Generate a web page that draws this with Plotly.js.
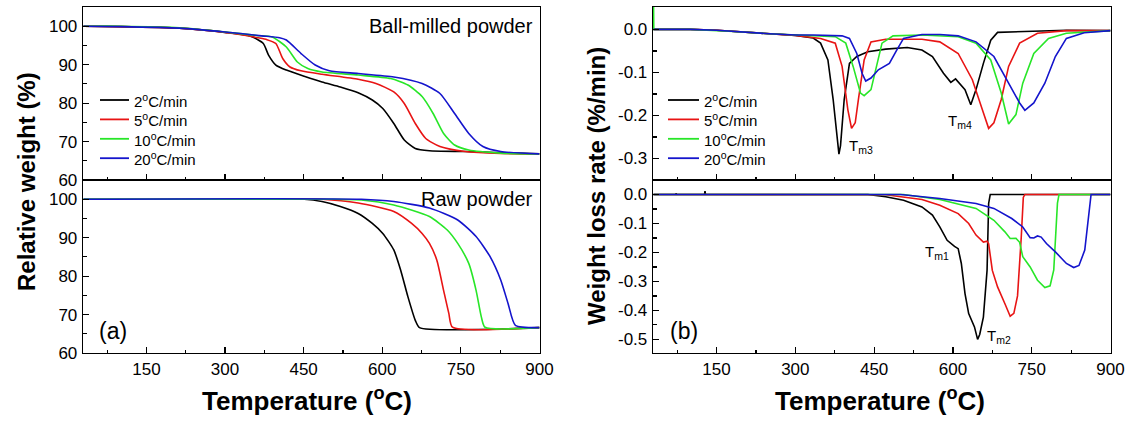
<!DOCTYPE html>
<html><head><meta charset="utf-8">
<script src="https://cdn.plot.ly/plotly-3.0.1.min.js"></script>
<style>html,body{margin:0;padding:0;background:#fff}#chart{width:1128px;height:421px}</style>
</head><body><div id="chart"></div>
<script>
// ---- Data ----
const seriesNames = ["2<sup>o</sup>C/min", "5<sup>o</sup>C/min", "10<sup>o</sup>C/min", "20<sup>o</sup>C/min"];
const seriesColors = ["#000000", "#e81414", "#28e628", "#1414cc"];

// (a) TG, ball-milled powder
const bmT2 = [30,100,213,300,349,373,383,397,417,451,485,520,554,581,601,622,642,663,690,758,826,900];
const bmW2 = [100,99.9,99.5,98.4,97.4,95.5,92.5,89.9,88.6,87,85.5,84.2,82.7,80.8,78.6,74.7,70.4,68.2,67.6,67.4,67.1,66.8];
const bmT5 = [30,100,213,300,340,363,380,397,410,424,445,485,554,588,622,642,663,683,710,758,826,900];
const bmW5 = [100,99.9,99.5,98.4,97.6,97.0,96.5,95.5,91.6,89.4,88.4,87.5,86.2,85.1,82.9,79.9,74.7,70.8,68.7,67.4,66.9,66.8];
const bmT10 = [30,100,213,300,360,390,417,438,458,485,554,616,649,676,697,717,738,765,826,900];
const bmW10 = [100,100,99.6,98.5,97.6,97.2,94.6,90.7,89,88.1,87.3,86.4,84.7,81.7,77.3,72.1,69.1,67.8,67.0,66.8];
const bmT20 = [30,100,213,300,370,404,417,445,472,499,554,622,676,710,738,765,792,826,900];
const bmW20 = [100,99.9,99.5,98.5,97.5,97,96.4,92.9,89.9,88.4,87.7,86.8,85.1,82.5,77.3,72.1,68.7,67.4,66.8];

// (a) TG, raw powder
const rwT2 = [30,300,451,485,520,554,581,601,622,635,649,663,671,900];
const rwW2 = [100,100,100,99.4,98.1,96.3,93.7,91.1,86.8,81.6,74.6,68.5,66.6,66.6];
const rwT5 = [298,485,554,622,656,676,690,704,717,727,734,900];
const rwW5 = [100,100,99.0,96.8,93.7,91.1,88.5,84.2,76.3,70.3,66.7,66.6];
const rwT10 = [30,500,560,622,690,724,744,765,779,789,796,900];
const rwW10 = [100,100,99.8,98.5,95.5,92,88.5,83.3,76.3,69.4,66.7,66.6];
const rwT20 = [30,560,622,690,744,779,806,826,840,854,900];
const rwW20 = [100,100,99.4,97.7,94.6,90.3,85,79,72.9,67.2,66.6];

// (b) DTG, ball-milled powder
const dbT2 = [30,100,150,183,250,300,334,348,362,372,383,386,393,403,417,438,472,513,541,561,582,596,605,623,634,644,658,672,685,747,816,900];
const dbR2 = [0,0,-0.002,-0.005,-0.01,-0.014,-0.02,-0.032,-0.071,-0.163,-0.29,-0.27,-0.163,-0.079,-0.063,-0.052,-0.046,-0.042,-0.048,-0.063,-0.102,-0.123,-0.115,-0.14,-0.175,-0.14,-0.079,-0.025,-0.007,-0.005,-0.002,-0.003];
const dbT5 = [30,100,150,183,250,300,348,376,389,400,407,414,420,431,444,472,541,575,610,637,658,668,678,692,706,727,761,816,900];
const dbR5 = [0,0,-0.002,-0.005,-0.01,-0.014,-0.021,-0.032,-0.086,-0.187,-0.23,-0.217,-0.163,-0.071,-0.029,-0.023,-0.023,-0.029,-0.056,-0.117,-0.194,-0.23,-0.217,-0.163,-0.086,-0.032,-0.009,-0.003,-0.003];
const dbT10 = [30,30.5,100,150,183,250,300,376,396,410,424,431,444,455,465,486,541,610,644,672,692,706,720,733,754,782,816,900];
const dbR10 = [0.06,0,0,-0.002,-0.005,-0.01,-0.013,-0.017,-0.032,-0.086,-0.148,-0.154,-0.14,-0.086,-0.032,-0.015,-0.013,-0.017,-0.032,-0.071,-0.148,-0.22,-0.198,-0.125,-0.056,-0.021,-0.009,-0.003];
const dbT20 = [30,100,150,183,250,300,334,389,403,417,427,434,444,458,479,493,506,541,575,610,644,678,706,727,737,754,775,795,816,850,900];
const dbR20 = [0,0,-0.002,-0.005,-0.01,-0.013,-0.013,-0.015,-0.021,-0.056,-0.102,-0.12,-0.113,-0.094,-0.079,-0.048,-0.021,-0.012,-0.012,-0.015,-0.029,-0.063,-0.125,-0.171,-0.188,-0.171,-0.125,-0.063,-0.021,-0.008,-0.003];

// (b) DTG, raw powder
const drT2 = [30,72,73,74,127,128,129,200,300,438,472,506,541,561,575,589,603,610,616,623,630,641,647,651,658,665,668,671,700,800,900];
const drR2 = [0,0,0.004,0,0,0.012,0,0,0,0,-0.008,-0.02,-0.043,-0.071,-0.112,-0.158,-0.179,-0.187,-0.238,-0.342,-0.411,-0.457,-0.5,-0.483,-0.423,-0.262,-0.031,0,0,0,0];
const drT5 = [30,300,472,541,575,610,630,644,658,665,668,675,685,699,709,716,723,730,734,737,900];
const drR5 = [0,0,-0.001,-0.017,-0.037,-0.066,-0.1,-0.14,-0.164,-0.161,-0.17,-0.262,-0.319,-0.377,-0.42,-0.41,-0.35,-0.15,-0.01,0,0];
const drT10 = [30,506,575,644,678,699,709,720,727,733,747,761,775,785,792,799,802,900];
const drR10 = [0,0,-0.017,-0.048,-0.089,-0.129,-0.152,-0.151,-0.165,-0.215,-0.25,-0.296,-0.321,-0.315,-0.26,-0.03,0,0];
const drT20 = [30,500,575,644,678,712,733,747,754,761,768,778,795,816,830,840,851,857,863,900];
const drR20 = [0,0,-0.014,-0.031,-0.048,-0.083,-0.112,-0.149,-0.15,-0.143,-0.147,-0.169,-0.198,-0.238,-0.252,-0.245,-0.192,-0.089,0,0];

const xTickVals = [150,300,450,600,750,900];
const xTickText = ["150","300","450","600","750","900"];
const yTGTickVals = [60,70,80,90,100];
const yTGTickText = ["60","70","80","90","100"];
const yDTGTopVals = [-0.3,-0.2,-0.1,0];
const yDTGTopText = ["-0.3","-0.2","-0.1","0.0"];
const yDTGBotVals = [-0.5,-0.4,-0.3,-0.2,-0.1,0];
const yDTGBotText = ["-0.5","-0.4","-0.3","-0.2","-0.1","0.0"];

// ---- Build ----
const W = 1128, H = 421;
const px = v => v / W, py = v => 1 - v / H;
const FONT = "Liberation Sans, Arial, sans-serif";

const groups = [
  {xs:[bmT2,bmT5,bmT10,bmT20], ys:[bmW2,bmW5,bmW10,bmW20], xa:"x", ya:"y", shape:"spline"},
  {xs:[rwT2,rwT5,rwT10,rwT20], ys:[rwW2,rwW5,rwW10,rwW20], xa:"x2", ya:"y2", shape:"spline"},
  {xs:[dbT2,dbT5,dbT10,dbT20], ys:[dbR2,dbR5,dbR10,dbR20], xa:"x3", ya:"y3", shape:"linear"},
  {xs:[drT2,drT5,drT10,drT20], ys:[drR2,drR5,drR10,drR20], xa:"x4", ya:"y4", shape:"linear"}
];
const traces = [];
groups.forEach(g => {
  for (let i = 0; i < 4; i++) {
    traces.push({x:g.xs[i], y:g.ys[i], xaxis:g.xa, yaxis:g.ya, mode:"lines", name:seriesNames[i],
      line:{color:seriesColors[i], width:1.6, shape:g.shape, smoothing:0.6}, hoverinfo:"skip", showlegend:false});
  }
});

const xDomL = [px(83), px(539.5)], xDomR = [px(653), px(1110.5)];
const yDomT = [py(180), py(7)], yDomB = [py(353), py(180)];
const tickFont = {family:FONT, size:17, color:"#000"};

function xa(dom, anchor, labels) {
  return {domain:dom, anchor:anchor, range:[29,900], showline:true, linecolor:"#000", linewidth:1.3, mirror:true,
    ticks:"inside", ticklen:6, tickwidth:1.2, tickcolor:"#000", tickmode:"array", tickvals:xTickVals, ticktext:xTickText,
    showticklabels:labels, tickfont:tickFont, showgrid:false, zeroline:false, ticklabelstandoff:0,
    minor:{tickmode:"linear", tick0:0, dtick:75, ticks:"inside", ticklen:3.5, tickwidth:1.2, tickcolor:"#000", showgrid:false}};
}
function ya(dom, anchor, range, vals, text, mdt) {
  return {domain:dom, anchor:anchor, range:range, showline:true, linecolor:"#000", linewidth:1.3, mirror:true,
    ticks:"inside", ticklen:6, tickwidth:1.2, tickcolor:"#000", tickmode:"array", tickvals:vals, ticktext:text,
    tickfont:tickFont, showgrid:false, zeroline:false, ticklabelstandoff:1,
    minor:{tickmode:"linear", tick0:0, dtick:mdt, ticks:"inside", ticklen:3.5, tickwidth:1.2, tickcolor:"#000", showgrid:false}};
}

const ann = (x, y, text, size, opts) => Object.assign({x:x, y:y, text:text, showarrow:false,
  font:{family:FONT, size:size, color:"#000"}}, opts || {});
const P = {xref:"paper", yref:"paper"};

const annotations = [
  ann(px(535), py(26), "Ball-milled powder", 20, Object.assign({xanchor:"right", yanchor:"middle"}, P)),
  ann(px(535), py(199), "Raw powder", 20, Object.assign({xanchor:"right", yanchor:"middle"}, P)),
  ann(px(97), py(331), "(a)", 23, Object.assign({xanchor:"left", yanchor:"middle"}, P)),
  ann(px(668), py(331), "(b)", 23, Object.assign({xanchor:"left", yanchor:"middle"}, P)),
  ann(px(26), py(182), "<b>Relative weight (%)</b>", 24, Object.assign({textangle:-90, xanchor:"center", yanchor:"middle"}, P)),
  ann(px(597), py(186), "<b>Weight loss rate (%/min)</b>", 24, Object.assign({textangle:-90, xanchor:"center", yanchor:"middle"}, P)),
  ann(px(307), py(399), "<b>Temperature (<sup>o</sup>C)</b>", 26, Object.assign({xanchor:"center", yanchor:"middle"}, P)),
  ann(px(880), py(399), "<b>Temperature (<sup>o</sup>C)</b>", 26, Object.assign({xanchor:"center", yanchor:"middle"}, P)),
  ann(398, -0.271, "T<sub>m3</sub>", 15, {xref:"x3", yref:"y3", xanchor:"left", yanchor:"middle"}),
  ann(613, -0.214, "T<sub>m4</sub>", 15, {xref:"x3", yref:"y3", xanchor:"center", yanchor:"middle"}),
  ann(570, -0.2, "T<sub>m1</sub>", 15, {xref:"x4", yref:"y4", xanchor:"center", yanchor:"middle"}),
  ann(687, -0.49, "T<sub>m2</sub>", 15, {xref:"x4", yref:"y4", xanchor:"center", yanchor:"middle"})
];

// Custom legends (left: panel a, right: panel b)
const shapes = [];
const legendSpots = [{x0:100, x1:129, xt:132}, {x0:668, x1:699, xt:702}];
legendSpots.forEach(L => {
  seriesNames.forEach((nm, i) => {
    const yy = 100 + i * 19.4;
    shapes.push({type:"line", xref:"paper", yref:"paper", x0:px(L.x0), x1:px(L.x1), y0:py(yy), y1:py(yy),
      line:{color:seriesColors[i], width:1.8}});
    annotations.push(ann(px(L.xt), py(yy + 0.5), nm, 15, Object.assign({xanchor:"left", yanchor:"middle"}, P)));
  });
});

const layout = {
  width:W, height:H, margin:{l:0, r:0, t:0, b:0}, paper_bgcolor:"#fff", plot_bgcolor:"#fff",
  showlegend:false,
  xaxis: xa(xDomL, "y", false),
  yaxis: ya(yDomT, "x", [60,105], yTGTickVals, yTGTickText, 5),
  xaxis2: xa(xDomL, "y2", true),
  yaxis2: ya(yDomB, "x2", [60,105], yTGTickVals, yTGTickText, 5),
  xaxis3: xa(xDomR, "y3", false),
  yaxis3: ya(yDomT, "x3", [-0.35,0.052], yDTGTopVals, yDTGTopText, 0.05),
  xaxis4: xa(xDomR, "y4", true),
  yaxis4: ya(yDomB, "x4", [-0.547,0.05], yDTGBotVals, yDTGBotText, 0.05),
  annotations: annotations,
  shapes: shapes
};

Plotly.newPlot("chart", traces, layout, {staticPlot:true, displayModeBar:false});
</script></body></html>
